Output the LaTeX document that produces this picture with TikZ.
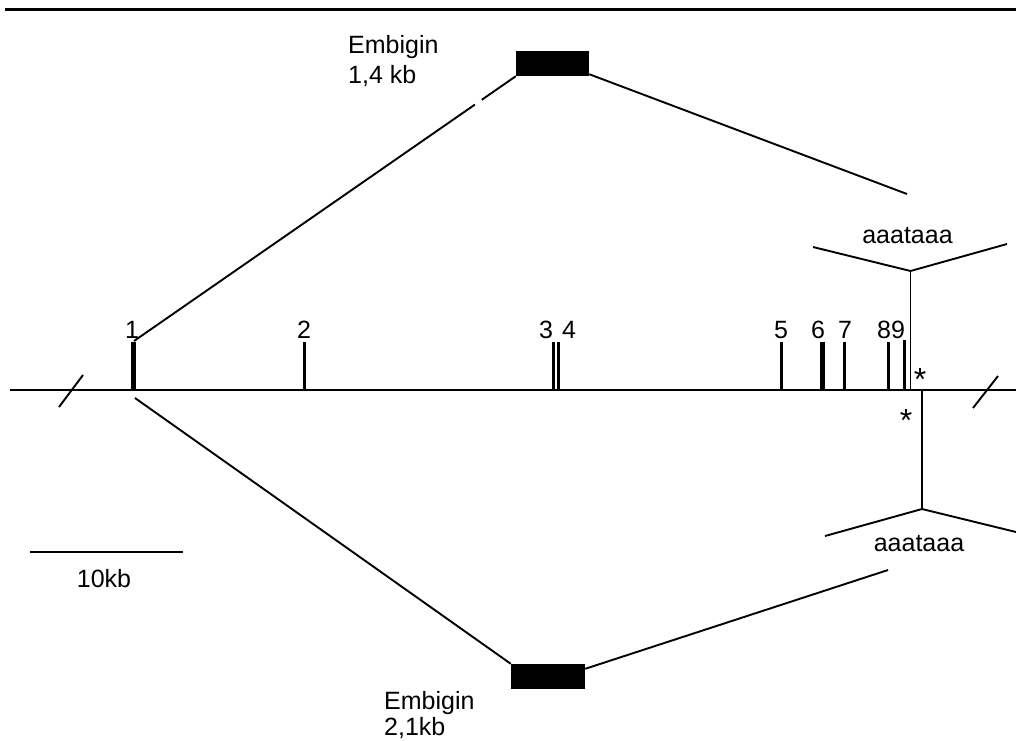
\documentclass[tikz,border=0pt]{standalone}
\usepackage{fontspec}
\setmainfont{Liberation Sans}
\usetikzlibrary{calc}
\begin{document}
\begin{tikzpicture}[x=1pt,y=-1pt,
  lbl/.style={inner sep=0pt,font=\fontsize{25}{30}\selectfont},
  exlbl/.style={inner sep=0pt,anchor=base,font=\fontsize{25}{28}\selectfont},
  ast/.style={inner sep=0pt,anchor=base,font=\fontsize{32}{34}\selectfont},
  thinexon/.style={line width=3pt},
  thickexon/.style={line width=5pt},
  axis/.style={line width=2.4pt},
  conn/.style={line width=1.9pt},
  exbox/.style={fill=black,draw=none,minimum width=73pt,minimum height=25pt,inner sep=0pt}]
\useasboundingbox (0,0) rectangle (1016,740);
% top rule
\coordinate (tl) at (5,9.5);
\coordinate (tr) at (1016,9.5);
\draw[axis] (tl) -- (tr);
% main axis
\coordinate (al) at (10,390);
\coordinate (ar) at (1016,390);
\draw[axis] (al) -- (ar);
% break marks
\coordinate (b1a) at (59,407); \coordinate (b1b) at (83,375);
\coordinate (b2a) at (973,408); \coordinate (b2b) at (998,376);
\draw[conn] (b1a) -- (b1b);
\draw[conn] (b2a) -- (b2b);
% exons
\coordinate (e1t) at (133,342); \coordinate (e1b) at (133,390);
\coordinate (e2t) at (304,342); \coordinate (e2b) at (304,390);
\coordinate (e3t) at (553.5,342); \coordinate (e3b) at (553.5,390);
\coordinate (e4t) at (558,342); \coordinate (e4b) at (558,390);
\coordinate (e5t) at (781,342); \coordinate (e5b) at (781,390);
\coordinate (e6t) at (822,342); \coordinate (e6b) at (822,390);
\coordinate (e7t) at (844,342); \coordinate (e7b) at (844,390);
\coordinate (e8t) at (888,342); \coordinate (e8b) at (888,390);
\coordinate (e9t) at (904,340); \coordinate (e9b) at (904,390);
\draw[thickexon] (e1t) -- (e1b);
\draw[thinexon] (e2t) -- (e2b);
\draw[thinexon] (e3t) -- (e3b);
\draw[thinexon] (e4t) -- (e4b);
\draw[thinexon] (e5t) -- (e5b);
\draw[thickexon] (e6t) -- (e6b);
\draw[thinexon] (e7t) -- (e7b);
\draw[thinexon] (e8t) -- (e8b);
\draw[thinexon] (e9t) -- (e9b);
% exon labels
\node[exlbl] (l1) at (132,338) {1};
\node[exlbl] (l2) at (304,338) {2};
\node[exlbl] (l3) at (546,338) {3};
\node[exlbl] (l4) at (569,338) {4};
\node[exlbl] (l5) at (781,338) {5};
\node[exlbl] (l6) at (818,338) {6};
\node[exlbl] (l7) at (845,338) {7};
\node[exlbl] (l89) at (891,338) {89};
% asterisks
\node[ast] (as1) at (920,390) {*};
\node[ast] (as2) at (906,431) {*};
% transcript boxes
\node[exbox] (box1) at (552.5,63.5) {};
\node[exbox,minimum width=74pt] (box2) at (548,676.5) {};
% upper transcript
\coordinate (u1) at (134,341);
\coordinate (gA) at ($(u1)!0.893!(box1.south west)$);
\coordinate (gB) at ($(u1)!0.911!(box1.south west)$);
\draw[conn] (u1) -- (gA);
\draw[conn] (gB) -- (box1.south west);
\coordinate (ur) at (907,194);
\draw[conn] ($(box1.south east)+(0,-2)$) -- (ur);
% lower transcript
\coordinate (d1) at (135,398);
\draw[conn] (d1) -- (box2.north west);
\coordinate (dr) at (888,570);
\draw[conn] ($(box2.north east)+(0,5)$) -- (dr);
% upper polyA
\coordinate (pa1) at (910.5,271);
\coordinate (pa1l) at (813,247);
\coordinate (pa1r) at (1007,244);
\coordinate (pa1b) at (910.5,390);
\draw[conn] (pa1l) -- (pa1) -- (pa1r);
\draw[conn] (pa1) -- (pa1b);
\node[lbl,anchor=base] (pat1) at (907.5,243) {aaataaa};
% lower polyA
\coordinate (pa2) at (922,509);
\coordinate (pa2l) at (825,536);
\coordinate (pa2r) at (1016,532);
\coordinate (pa2t) at (922,390);
\draw[conn] (pa2l) -- (pa2) -- (pa2r);
\draw[conn] (pa2) -- (pa2t);
\node[lbl,anchor=base] (pat2) at (919,551) {aaataaa};
% scale bar
\coordinate (s1) at (30,552);
\coordinate (s2) at (183,552);
\draw[conn] (s1) -- (s2);
\node[lbl,anchor=base] (sl) at (104,587) {10kb};
% transcript labels
\node[lbl,anchor=base west] (t1a) at (348,53) {Embigin};
\node[lbl,anchor=base west] (t1b) at (348,83) {1,4 kb};
\node[lbl,anchor=base west] (t2a) at (384,709) {Embigin};
\node[lbl,anchor=base west] (t2b) at (384,735) {2,1kb};
\end{tikzpicture}
\end{document}
